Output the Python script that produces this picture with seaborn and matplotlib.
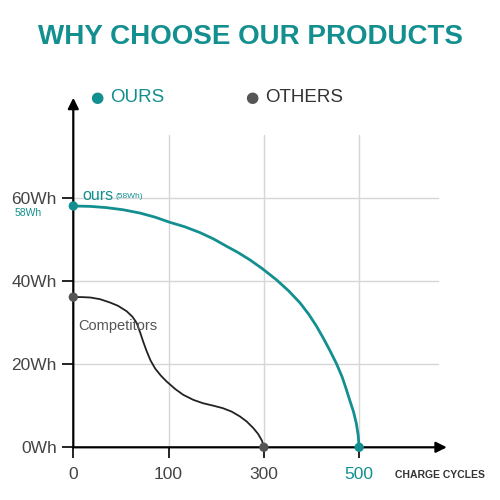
import matplotlib
matplotlib.use("Agg")
import matplotlib.pyplot as plt
import seaborn as sns
import pandas as pd

# ---- data (x in tick-index units: 0->0, 1->100, 2->300, 3->500 cycles) ----
cycle_labels = ["0", "100", "300", "500"]
wh_ticks = [0, 20, 40, 60]
wh_labels = ["0Wh", "20Wh", "40Wh", "60Wh"]

ours_x = [0.00, 0.18, 0.35, 0.52, 0.70, 0.86, 1.01, 1.17, 1.33, 1.47, 1.61, 1.73, 1.85,
          1.98, 2.13, 2.26, 2.38, 2.47, 2.55, 2.62, 2.69, 2.76, 2.82, 2.86, 2.90, 2.94,
          2.97, 2.99, 3.00]
ours_y = [58.0, 57.9, 57.6, 57.1, 56.3, 55.3, 54.1, 53.0, 51.6, 50.1, 48.3, 46.8, 45.1,
          43.0, 40.3, 37.6, 34.7, 32.0, 29.2, 26.4, 23.4, 20.2, 17.0, 14.3, 11.4, 8.6,
          5.8, 2.9, 0.0]

comp_x = [0.00, 0.09, 0.18, 0.28, 0.385, 0.47, 0.56, 0.62, 0.665, 0.70, 0.735, 0.77,
          0.81, 0.86, 0.92, 0.98, 1.07, 1.155, 1.26, 1.36, 1.47, 1.57, 1.66, 1.75, 1.82,
          1.89, 1.94, 1.98, 2.00]
comp_y = [36.1, 36.1, 36.0, 35.6, 34.8, 34.0, 32.7, 31.4, 29.9, 27.7, 25.3, 23.1,
          20.9, 18.9, 17.2, 15.8, 14.0, 12.6, 11.4, 10.6, 10.0, 9.4, 8.6, 7.4, 6.2,
          4.6, 3.2, 1.6, 0.0]

ours_end_x = [0, 3]
ours_end_y = [58, 0]
comp_end_x = [0, 2]
comp_end_y = [36.1, 0]

TEAL = "#138f8f"
GRAY = "#555555"

sns.set_style("white")
plt.rcParams["font.family"] = ["Liberation Sans", "DejaVu Sans"]

fig = plt.figure(figsize=(5, 5), dpi=100)
ax = fig.add_axes([0.1466, 0.1054, 0.747, 0.699])
ax.set_xlim(0, 3.92)
ax.set_ylim(0, 84)

# grid
for xv in [1, 2, 3]:
    ax.axvline(xv, ymin=0, ymax=75 / 84, color="#d6d6d6", lw=1, zorder=0)
for yv in [20, 40, 60]:
    ax.axhline(yv, xmin=0, xmax=3.83 / 3.92, color="#d6d6d6", lw=1, zorder=0)

df_ours = pd.DataFrame({"x": ours_x, "y": ours_y})
df_comp = pd.DataFrame({"x": comp_x, "y": comp_y})
sns.lineplot(data=df_ours, x="x", y="y", ax=ax, color=TEAL, lw=2.0, sort=False, zorder=3,
             solid_joinstyle="round", solid_capstyle="round")
sns.lineplot(data=df_comp, x="x", y="y", ax=ax, color="#222222", lw=1.3, sort=False, zorder=3,
             solid_joinstyle="round", solid_capstyle="round")
sns.scatterplot(x=ours_end_x, y=ours_end_y, ax=ax, color=TEAL, s=45, edgecolor="none", zorder=5, clip_on=False)
sns.scatterplot(x=comp_end_x, y=comp_end_y, ax=ax, color=GRAY, s=45, edgecolor="none", zorder=5, clip_on=False)

for s in ax.spines.values():
    s.set_visible(False)

# axes arrows
ax.annotate("", xy=(0, 1.0), xytext=(0, 0), xycoords="axes fraction",
            arrowprops=dict(arrowstyle="-|>", color="black", lw=1.6, mutation_scale=16,
                            shrinkA=0, shrinkB=0), annotation_clip=False, zorder=4)
ax.annotate("", xy=(1.0, 0), xytext=(0, 0), xycoords="axes fraction",
            arrowprops=dict(arrowstyle="-|>", color="black", lw=1.6, mutation_scale=16,
                            shrinkA=0, shrinkB=0), annotation_clip=False, zorder=4)

ax.set_xticks(range(len(cycle_labels)))
ax.set_xticklabels(cycle_labels)
ax.set_yticks(wh_ticks)
ax.set_yticklabels(wh_labels)
ax.tick_params(axis="x", direction="out", length=8, width=1.2, color="black",
               labelsize=12.5, labelcolor="#444444", pad=6, bottom=True)
ax.tick_params(axis="y", direction="out", length=8, width=1.2, color="black",
               labelsize=12.5, labelcolor="#444444", pad=4, left=True)
ax.get_xticklabels()[3].set_color(TEAL)
ax.set_xlabel("")
ax.set_ylabel("")

# texts
fig.text(0.5, 1 - 37 / 500, "WHY CHOOSE OUR PRODUCTS", ha="center", va="center",
         fontsize=20, fontweight="bold", color=TEAL)
fig.text(97 / 500, 1 - 97 / 500, "\u25CF", ha="center", va="center", fontsize=11,
         color=TEAL, family=["DejaVu Sans"])
fig.text(110 / 500, 1 - 97 / 500, "OURS", ha="left", va="center", fontsize=13.5, color=TEAL)
fig.text(252 / 500, 1 - 97 / 500, "\u25CF", ha="center", va="center", fontsize=11,
         color=GRAY, family=["DejaVu Sans"])
fig.text(265 / 500, 1 - 97 / 500, "OTHERS", ha="left", va="center", fontsize=13.5, color="#333333")

fig.text(82 / 500, 1 - 196 / 500, "ours", ha="left", va="center", fontsize=11.5, color=TEAL)
fig.text(116 / 500, 1 - 197 / 500, "(58Wh)", ha="left", va="center", fontsize=6, color=TEAL)
fig.text(15 / 500, 1 - 213 / 500, "58Wh", ha="left", va="center", fontsize=7.5, color=TEAL)
fig.text(78 / 500, 1 - 326 / 500, "Competitors", ha="left", va="center", fontsize=10.5, color=GRAY)
fig.text(395 / 500, 1 - 475 / 500, "CHARGE CYCLES", ha="left", va="center", fontsize=7.5,
         fontweight="bold", color="#333333")

fig.savefig("out.png", dpi=100, facecolor="white")
